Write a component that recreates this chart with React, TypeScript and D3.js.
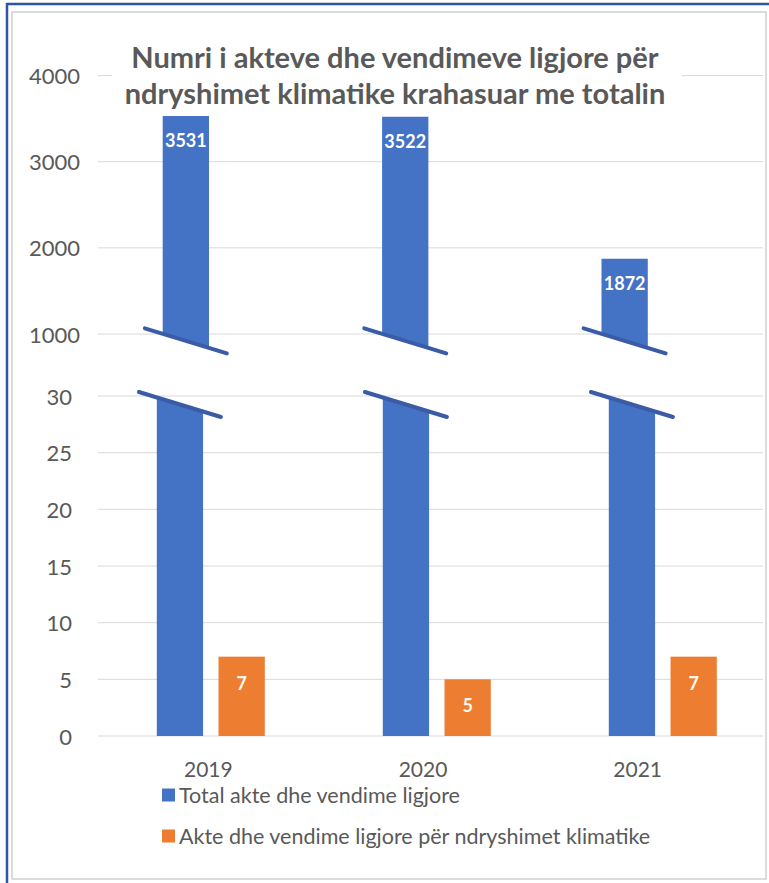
import React from "react";
import * as d3 from "d3";

const years = ["2019", "2020", "2021"];
const totals = [3531, 3522, 1872];
const climate = [7, 5, 7];
const seriesNames = [
  "Total akte dhe vendime ligjore",
  "Akte dhe vendime ligjore për ndryshimet klimatike",
];
const topTicks = [1000, 2000, 3000, 4000];
const bottomTicks = [0, 5, 10, 15, 20, 25, 30];
const titleLines = [
  "Numri i akteve dhe vendimeve ligjore për",
  "ndryshimet klimatike krahasuar me totalin",
];

const BLUE = "#4472c4";
const ORANGE = "#ed7d31";
const BREAK = "#3a5ba6";
const GRID = "#d9d9d9";
const TEXT = "#595959";
const FONT = "Lato, 'Open Sans', sans-serif";

export default function App() {
  const W = 769;
  const H = 883;
  const gridX0 = 98;
  const gridX1 = 763;

  const yTop = d3.scaleLinear().domain([1000, 4000]).range([334, 75.5]);
  const yBot = d3.scaleLinear().domain([0, 30]).range([736, 396]);

  const xTop = d3.scaleBand().domain(years).range([107, 765.2]);
  const xBot = d3.scaleBand().domain(years).range([97.8, 775.8]);
  const xLab = d3.scaleBand().domain(years).range([101, 745]);
  const inner = d3
    .scaleBand()
    .domain(["total", "climate"])
    .range([-54, 54])
    .paddingInner(0.25);

  const bw = inner.bandwidth();
  const topBreakVal = 920;
  const botBreakVal = 29.25;
  const half = 41;
  const drop = 12.5;

  const lineY = (cx: number, cy: number, x: number) =>
    cy + ((x - cx) / half) * drop;

  return (
    <svg
      width={W}
      height={H}
      style={{ position: "absolute", left: 0, top: 0, background: "#fff" }}
    >
      {/* frame */}
      <rect x={12} y={12} width={754} height={867} fill="#fff" stroke="#d0d0d0" strokeWidth={1.5} />
      <line x1={6} y1={4} x2={769} y2={4} stroke="#2f55a4" strokeWidth={2.5} />
      <line x1={7} y1={3} x2={7} y2={883} stroke="#2f55a4" strokeWidth={2.5} />

      {/* gridlines */}
      {topTicks.map((t) => (
        <line key={"gt" + t} x1={gridX0} x2={gridX1} y1={yTop(t)} y2={yTop(t)} stroke={GRID} strokeWidth={1} />
      ))}
      {bottomTicks.map((t) => (
        <line key={"gb" + t} x1={gridX0} x2={gridX1} y1={yBot(t)} y2={yBot(t)} stroke={GRID} strokeWidth={1} />
      ))}

      {/* y tick labels */}
      {topTicks.map((t) => (
        <text key={"lt" + t} x={80} y={yTop(t)} textAnchor="end" dominantBaseline="central" fill={TEXT} fontFamily={FONT} fontSize={22}>
          {t}
        </text>
      ))}
      {bottomTicks.map((t) => (
        <text key={"lb" + t} x={72} y={yBot(t)} textAnchor="end" dominantBaseline="central" fill={TEXT} fontFamily={FONT} fontSize={22}>
          {t}
        </text>
      ))}

      {/* title background + title */}
      <rect x={112} y={34} width={570} height={76} fill="#fff" />
      {titleLines.map((l, i) => (
        <text key={"t" + i} x={395} y={56 + i * 36} textAnchor="middle" dominantBaseline="central" fill={TEXT} fontFamily={FONT} fontWeight={700} fontSize={29}>
          {l}
        </text>
      ))}

      {/* top panel bars */}
      {years.map((yr, i) => {
        const c = (xTop(yr) as number) + xTop.bandwidth() / 2;
        const x0 = c + (inner("total") as number);
        const x1 = x0 + bw;
        const bc = x0 + bw / 2;
        const by = yTop(topBreakVal);
        const top = yTop(totals[i]);
        const path = `M${x0},${top}L${x1},${top}L${x1},${lineY(bc, by, x1)}L${x0},${lineY(bc, by, x0)}Z`;
        return (
          <g key={"tb" + yr}>
            <path d={path} fill={BLUE} />
            <line x1={bc - half} y1={lineY(bc, by, bc - half)} x2={bc + half} y2={lineY(bc, by, bc + half)} stroke={BREAK} strokeWidth={4} strokeLinecap="round" />
            <text x={bc} y={top + 24} textAnchor="middle" dominantBaseline="central" fill="#fff" fontFamily={FONT} fontWeight={700} fontSize={18}>
              {totals[i]}
            </text>
          </g>
        );
      })}

      {/* bottom panel bars */}
      {years.map((yr, i) => {
        const c = (xBot(yr) as number) + xBot.bandwidth() / 2;
        const x0 = c + (inner("total") as number);
        const x1 = x0 + bw;
        const bc = x0 + bw / 2;
        const by = yBot(botBreakVal);
        const base = yBot(0);
        const path = `M${x0},${lineY(bc, by, x0)}L${x1},${lineY(bc, by, x1)}L${x1},${base}L${x0},${base}Z`;
        const ox = c + (inner("climate") as number);
        const otop = yBot(climate[i]);
        return (
          <g key={"bb" + yr}>
            <path d={path} fill={BLUE} />
            <line x1={bc - half} y1={lineY(bc, by, bc - half)} x2={bc + half} y2={lineY(bc, by, bc + half)} stroke={BREAK} strokeWidth={4} strokeLinecap="round" />
            <rect x={ox} y={otop} width={bw} height={base - otop} fill={ORANGE} />
            <text x={ox + bw / 2} y={otop + 26} textAnchor="middle" dominantBaseline="central" fill="#fff8f0" fontFamily={FONT} fontWeight={700} fontSize={18}>
              {climate[i]}
            </text>
          </g>
        );
      })}

      {/* x labels */}
      {years.map((yr) => (
        <text key={"x" + yr} x={(xLab(yr) as number) + xLab.bandwidth() / 2} y={768} textAnchor="middle" dominantBaseline="central" fill={TEXT} fontFamily={FONT} fontSize={21}>
          {yr}
        </text>
      ))}

      {/* legend */}
      {seriesNames.map((s, i) => (
        <g key={"lg" + i} transform={`translate(162, ${795 + i * 41})`}>
          <rect x={0} y={-6.5} width={13} height={13} fill={i === 0 ? BLUE : ORANGE} />
          <text x={17} y={0} dominantBaseline="central" fill={TEXT} fontFamily={FONT} fontSize={21.5}>
            {s}
          </text>
        </g>
      ))}
    </svg>
  );
}
